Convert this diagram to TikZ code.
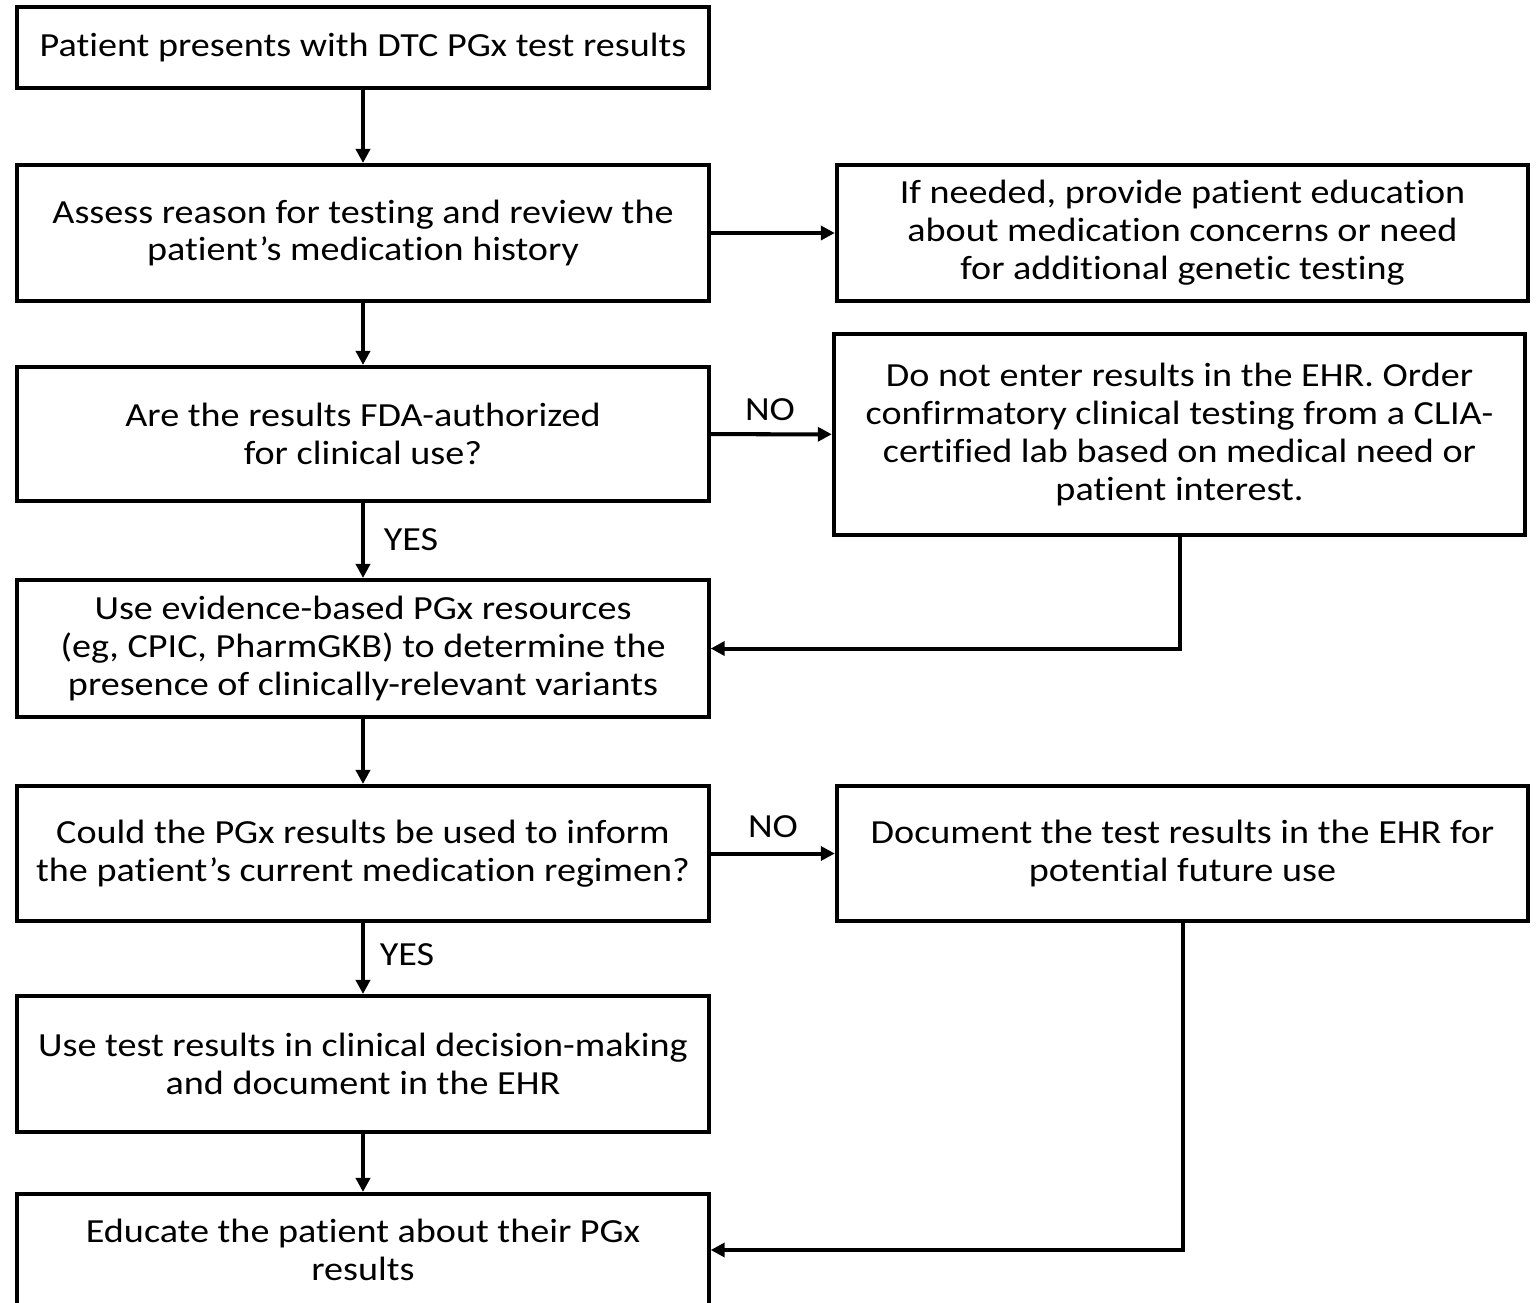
\documentclass[tikz,border=0pt]{standalone}
\usepackage{fontspec}
\setmainfont[FakeStretch=1.13,RawFeature={-liga;-calt}]{Carlito}
\usetikzlibrary{arrows.meta}
\tikzset{
    box/.style={draw, line width=1.14pt, minimum width=6.91cm, inner sep=0pt, align=center,
        font=\fontsize{9.6}{10.8}\selectfont},
    arr/.style={line width=1.14pt, -{Triangle[length=1.4mm,width=1.4mm]}},
    lbl/.style={font=\fontsize{9.6}{10.8}\selectfont}
}
\begin{document}
\begin{tikzpicture}[x=0.01cm,y=-0.01cm]
    \useasboundingbox (0,0) rectangle (1536,1303);
    %% left column
    \node[box, minimum height=0.81cm] (b1) at (363,47.5) {Patient presents with DTC PGx test results};
    \node[box, minimum height=1.36cm] (b2) at (363,233) {Assess reason for testing and review the\\patient’s medication history};
    \node[box, minimum height=1.34cm] (b4) at (363,434) {Are the results FDA-authorized\\for clinical use?};
    \node[box, minimum height=1.37cm] (b6) at (363,648.5) {Use evidence-based PGx resources\\(eg, CPIC, PharmGKB) to determine the\\presence of clinically-relevant variants};
    \node[box, minimum height=1.35cm] (b7) at (363,853.5) {Could the PGx results be used to inform\\the patient’s current medication regimen?};
    \node[box, minimum height=1.36cm] (b9) at (363,1064) {Use test results in clinical decision-making\\and document in the EHR};
    \node[box, minimum height=1.12cm] (b10) at (363,1250) {Educate the patient about their PGx\\results};
    %% right column
    \node[box, minimum height=1.36cm] (b3) at (1182.5,233) {If needed, provide patient education\\about medication concerns or need\\for additional genetic testing};
    \node[box, minimum height=2.01cm] (b5) at (1179.5,434.5) {Do not enter results in the EHR. Order\\confirmatory clinical testing from a CLIA-\\certified lab based on medical need or\\patient interest.};
    \node[box, minimum height=1.35cm] (b8) at (1182.5,853.5) {Document the test results in the EHR for\\potential future use};
    %% arrows down
    \foreach \a/\b in {b1/b2,b2/b4,b4/b6,b6/b7,b7/b9,b9/b10}
        \draw[arr] (\a) -- (\b);
    %% arrows right
    \foreach \a/\b in {b2/b3,b4/b5,b7/b8}
        \draw[arr] (\a) -- (\b);
    %% back to the left column
    \draw[arr] (b5.south) |- (b6.east);
    \draw[arr] (b8.south) |- (b10.east);
    %% labels
    \node[lbl] (no1) at (770,410) {NO};
    \node[lbl] (no2) at (773,827) {NO};
    \node[lbl] (yes1) at (411,540) {YES};
    \node[lbl] (yes2) at (407,955) {YES};
\end{tikzpicture}
\end{document}
